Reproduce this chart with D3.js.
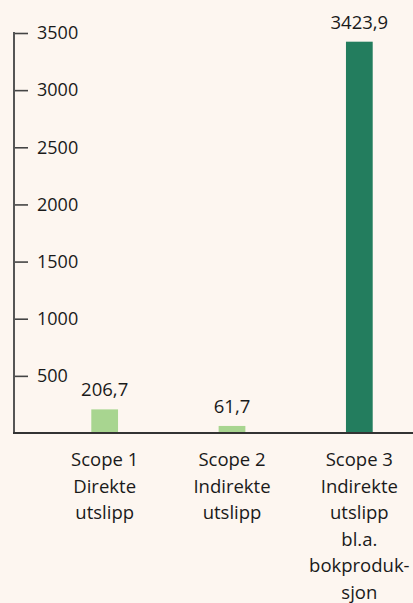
<!DOCTYPE html>
<meta charset="utf-8">
<style>
body { margin: 0; background: #fdf6f0; }
svg { display: block; font-family: "Open Sans", sans-serif; }
</style>
<svg width="413" height="603"></svg>
<script src="https://d3js.org/d3.v7.min.js"></script>
<script>

var categories = ["Scope 1", "Scope 2", "Scope 3"];
var catLines = [
  ["Scope 1", "Direkte", "utslipp"],
  ["Scope 2", "Indirekte", "utslipp"],
  ["Scope 3", "Indirekte", "utslipp", "bl.a.", "bokproduk-", "sjon"]
];
var values = [206.7, 61.7, 3423.9];
var valueLabels = ["206,7", "61,7", "3423,9"];
var barColors = ["#a8d590", "#a8d590", "#237d5e"];
var yTicks = [500, 1000, 1500, 2000, 2500, 3000, 3500];

var svg = d3.select("svg");

var y = d3.scaleLinear().domain([0, 3500]).range([433, 33]);
var x = d3.scaleBand().domain(categories).range([41, 423]).paddingInner(0.79).paddingOuter(0.395);

// background
svg.append("rect").attr("width", 413).attr("height", 603).attr("fill", "#fdf6f0");

// y axis
var yAxis = d3.axisRight(y).tickValues(yTicks).tickSize(14).tickPadding(9).tickFormat(d3.format("d"));
var gy = svg.append("g").attr("transform", "translate(14,0)").call(yAxis);
gy.select(".domain").remove();
gy.selectAll(".tick line").attr("stroke", "#444").attr("stroke-width", 1.6);
gy.selectAll(".tick text").attr("font-size", 18).attr("fill", "#1a1a1a")
  .attr("font-family", "'Open Sans', sans-serif");
svg.append("line").attr("x1", 14).attr("x2", 14).attr("y1", y(3500) - 1).attr("y2", y(0))
  .attr("stroke", "#555").attr("stroke-width", 2);

// bars
svg.selectAll(".bar").data(values).enter().append("rect")
  .attr("class", "bar")
  .attr("x", function(d, i) { return x(categories[i]); })
  .attr("width", x.bandwidth())
  .attr("y", function(d) { return y(d); })
  .attr("height", function(d) { return y(0) - y(d); })
  .attr("fill", function(d, i) { return barColors[i]; });

// value labels
svg.selectAll(".val").data(values).enter().append("text")
  .attr("class", "val")
  .attr("x", function(d, i) { return x(categories[i]) + x.bandwidth() / 2; })
  .attr("y", function(d) { return y(d) - 13; })
  .attr("text-anchor", "middle")
  .attr("font-size", 18.5)
  .attr("fill", "#1a1a1a")
  .text(function(d, i) { return valueLabels[i]; });

// x axis line
svg.append("line").attr("x1", 13).attr("x2", 413).attr("y1", y(0)).attr("y2", y(0))
  .attr("stroke", "#333").attr("stroke-width", 2);

// category labels
catLines.forEach(function(lines, i) {
  var t = svg.append("text")
    .attr("x", x(categories[i]) + x.bandwidth() / 2)
    .attr("y", 466)
    .attr("text-anchor", "middle")
    .attr("font-size", 18.5)
    .attr("fill", "#1a1a1a");
  lines.forEach(function(l, j) {
    t.append("tspan").attr("x", x(categories[i]) + x.bandwidth() / 2)
      .attr("y", 466 + j * 26.6).text(l);
  });
});

</script>
